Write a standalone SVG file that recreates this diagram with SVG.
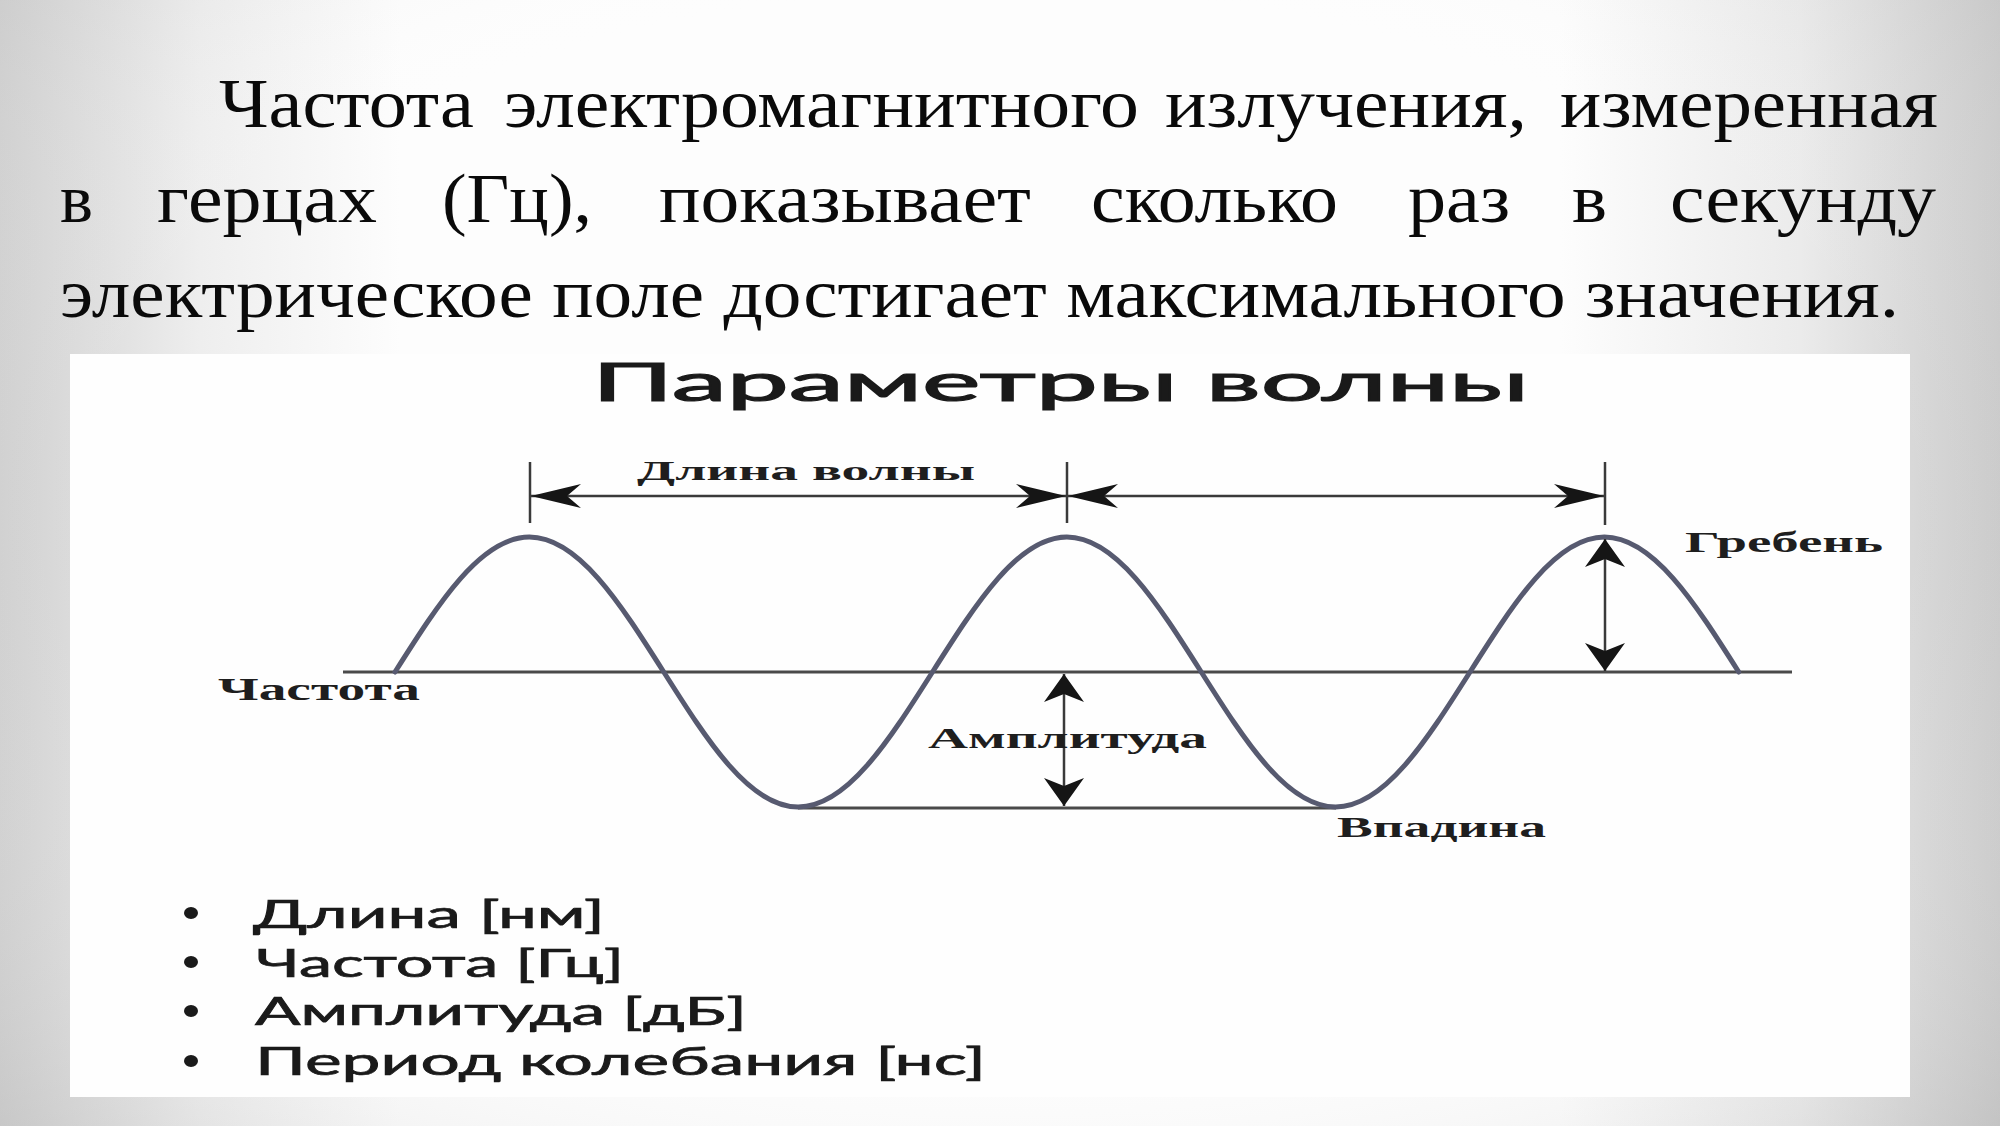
<svg xmlns="http://www.w3.org/2000/svg" width="2000" height="1126" viewBox="0 0 2000 1126">
  <defs>
    <linearGradient id="bgH" x1="0" y1="0" x2="1" y2="0">
      <stop offset="0" stop-color="#cfcfcf"/>
      <stop offset="0.1" stop-color="#eeeeee"/>
      <stop offset="0.2" stop-color="#fdfdfd"/>
      <stop offset="0.78" stop-color="#fdfdfd"/>
      <stop offset="0.9" stop-color="#ebebeb"/>
      <stop offset="1" stop-color="#c9c9c9"/>
    </linearGradient>
    <radialGradient id="bgR" cx="0.5" cy="0.45" r="0.75">
      <stop offset="0.6" stop-color="#ffffff" stop-opacity="0"/>
      <stop offset="1" stop-color="#b8b8b8" stop-opacity="0.35"/>
    </radialGradient>
    <marker id="hArrow" viewBox="0 0 50 24" markerWidth="50" markerHeight="24" refX="50" refY="12" orient="auto-start-reverse" markerUnits="userSpaceOnUse">
      <path d="M0,0 L50,12 L0,24 L14,12 Z" fill="#151515"/>
    </marker>
    <marker id="vArrow" viewBox="0 0 28 40" markerWidth="28" markerHeight="40" refX="28" refY="20" orient="auto-start-reverse" markerUnits="userSpaceOnUse">
      <path d="M0,0 L28,20 L0,40 L8,20 Z" fill="#151515"/>
    </marker>
  </defs>
  <style>
    .para { font-family: "Liberation Serif", "Times New Roman", serif; font-size: 70px; fill: #0a0a0a; }
    .lbl { font-family: "Liberation Serif", "Times New Roman", serif; font-weight: bold; fill: #1e1e1e; }
    .sans { font-family: Lato, "Noto Sans", sans-serif; fill: #1a1a1a; stroke: #1a1a1a; }
    .title { stroke-width: 1.2; }
    .item { stroke-width: 0.7; }
    .dot { fill: #1a1a1a; }
    .axis { stroke: #4a4a4a; stroke-width: 3; fill: none; }
    .dim { stroke: #3a3a3a; stroke-width: 2.5; fill: none; }
    .wave { stroke: #575a70; stroke-width: 5; fill: none; stroke-linecap: round; }
  </style>

  <rect x="0" y="0" width="2000" height="1126" fill="url(#bgH)"/>
  <rect x="0" y="0" width="2000" height="1126" fill="url(#bgR)"/>

  <g id="paragraph">
    <text class="para" y="127" x="219" textLength="255" lengthAdjust="spacingAndGlyphs">Частота</text>
    <text class="para" y="127" x="504" textLength="635" lengthAdjust="spacingAndGlyphs">электромагнитного</text>
    <text class="para" y="127" x="1165" textLength="362" lengthAdjust="spacingAndGlyphs">излучения,</text>
    <text class="para" y="127" x="1560" textLength="378" lengthAdjust="spacingAndGlyphs">измеренная</text>

    <text class="para" y="222" x="60" textLength="33" lengthAdjust="spacingAndGlyphs">в</text>
    <text class="para" y="222" x="157" textLength="220" lengthAdjust="spacingAndGlyphs">герцах</text>
    <text class="para" y="222" x="442" textLength="150" lengthAdjust="spacingAndGlyphs">(Гц),</text>
    <text class="para" y="222" x="659" textLength="372" lengthAdjust="spacingAndGlyphs">показывает</text>
    <text class="para" y="222" x="1091" textLength="247" lengthAdjust="spacingAndGlyphs">сколько</text>
    <text class="para" y="222" x="1408" textLength="102" lengthAdjust="spacingAndGlyphs">раз</text>
    <text class="para" y="222" x="1572" textLength="35" lengthAdjust="spacingAndGlyphs">в</text>
    <text class="para" y="222" x="1670" textLength="266" lengthAdjust="spacingAndGlyphs">секунду</text>

    <text class="para" y="317" x="60" textLength="1839" lengthAdjust="spacingAndGlyphs">электрическое поле достигает максимального значения.</text>
  </g>

  <g id="panel">
    <rect x="70" y="354" width="1840" height="743" fill="#fefefe"/>
  </g>

  <g id="title">
    <text class="sans title" x="592" y="401" font-size="53" textLength="937" lengthAdjust="spacingAndGlyphs">Параметры волны</text>
  </g>

  <g id="axes">
    <line class="axis" x1="343" y1="672" x2="1792" y2="672"/>
    <line class="axis" x1="798" y1="808" x2="1336" y2="808"/>
  </g>

  <g id="wave">
    <path class="wave" d="M395,672 C438.83,602.84 480.75,537 529.375,537 C578,537 619.92,602.84 663.75,672 C707.58,741.16 749.5,807 798.125,807 C846.75,807 888.67,741.16 932.5,672 C976.33,602.84 1018.25,537 1066.875,537 C1115.5,537 1157.42,602.84 1201.25,672 C1245.08,741.16 1287,807 1335.625,807 C1384.25,807 1426.17,741.16 1470,672 C1513.83,602.84 1555.75,537 1604.375,537 C1653,537 1694.92,602.84 1738.75,672"/>
  </g>

  <g id="connectors">
    <line class="dim" x1="530" y1="462" x2="530" y2="523"/>
    <line class="dim" x1="1067" y1="462" x2="1067" y2="523"/>
    <line class="dim" x1="1605" y1="462" x2="1605" y2="525"/>
    <line class="dim" x1="531" y1="496" x2="1066" y2="496" marker-start="url(#hArrow)" marker-end="url(#hArrow)"/>
    <line class="dim" x1="1068" y1="496" x2="1604" y2="496" marker-start="url(#hArrow)" marker-end="url(#hArrow)"/>
    <line class="dim" x1="1064" y1="674" x2="1064" y2="806" marker-start="url(#vArrow)" marker-end="url(#vArrow)"/>
    <line class="dim" x1="1605" y1="539" x2="1605" y2="671" marker-start="url(#vArrow)" marker-end="url(#vArrow)"/>
  </g>

  <g id="label-wavelength">
    <text class="lbl" x="637" y="480" font-size="28" textLength="338" lengthAdjust="spacingAndGlyphs">Длина волны</text>
  </g>
  <g id="label-crest">
    <text class="lbl" x="1685" y="552" font-size="30" textLength="198" lengthAdjust="spacingAndGlyphs">Гребень</text>
  </g>
  <g id="label-frequency">
    <text class="lbl" x="218" y="700" font-size="31" textLength="202" lengthAdjust="spacingAndGlyphs">Частота</text>
  </g>
  <g id="label-amplitude">
    <text class="lbl" x="928" y="748" font-size="30" textLength="279" lengthAdjust="spacingAndGlyphs">Амплитуда</text>
  </g>
  <g id="label-trough">
    <text class="lbl" x="1337" y="837" font-size="30" textLength="209" lengthAdjust="spacingAndGlyphs">Впадина</text>
  </g>

  <g id="bullets">
    <ellipse class="dot" cx="191" cy="913" rx="7" ry="6"/>
    <ellipse class="dot" cx="191" cy="962" rx="7" ry="6"/>
    <ellipse class="dot" cx="191" cy="1011" rx="7" ry="6"/>
    <ellipse class="dot" cx="191" cy="1061" rx="7" ry="6"/>
    <text class="sans item" x="253" y="928" font-size="39" textLength="352" lengthAdjust="spacingAndGlyphs">Длина [нм]</text>
    <text class="sans item" x="256" y="977" font-size="39" textLength="368" lengthAdjust="spacingAndGlyphs">Частота [Гц]</text>
    <text class="sans item" x="255" y="1025" font-size="39" textLength="492" lengthAdjust="spacingAndGlyphs">Амплитуда [дБ]</text>
    <text class="sans item" x="255" y="1075" font-size="39" textLength="731" lengthAdjust="spacingAndGlyphs">Период колебания [нс]</text>
  </g>
</svg>
